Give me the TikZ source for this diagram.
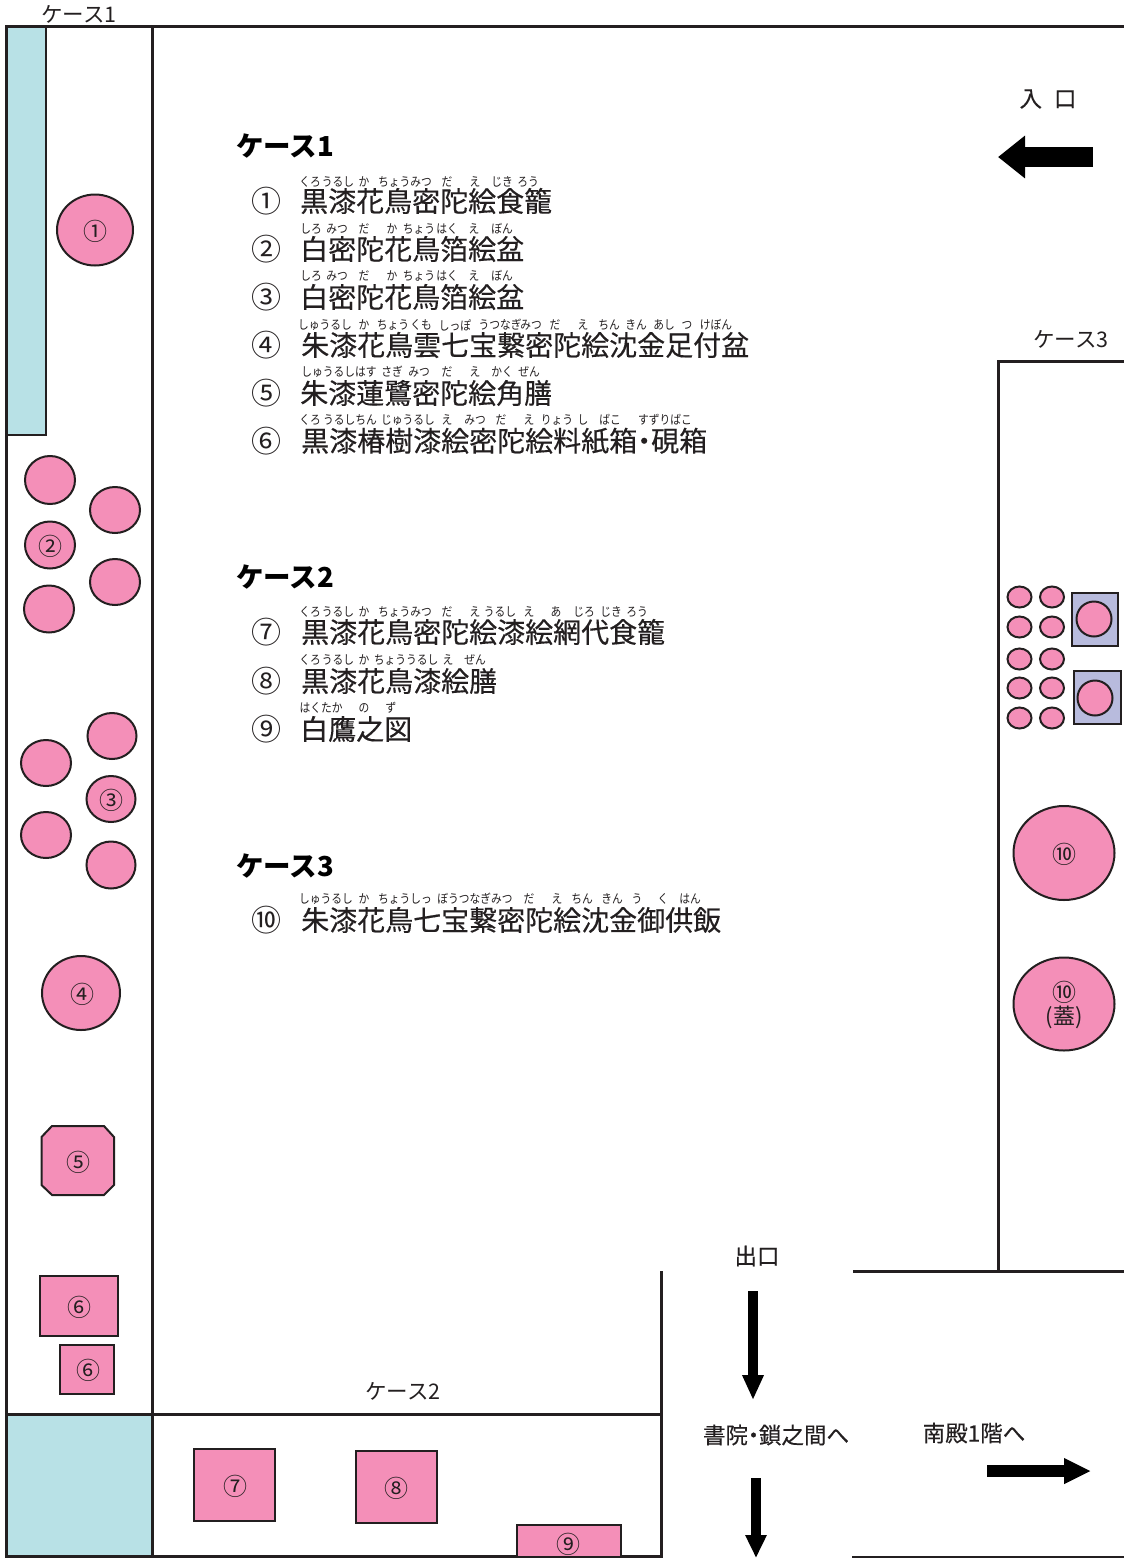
\documentclass[tikz,border=0pt]{standalone}
\usepackage{fontspec}
\setmainfont{Noto Sans CJK JP}
\newfontfamily\jpheavy{Noto Sans CJK JP}[FakeBold=0.35]
\usetikzlibrary{shapes.geometric,arrows.meta}
\definecolor{pinkfill}{HTML}{F48FB8}
\definecolor{cyanfill}{HTML}{B8E1E6}
\definecolor{lavfill}{HTML}{B8BBDD}
\definecolor{ink}{HTML}{231F20}
\newcommand\fs[1]{\fontsize{#1}{#1}\selectfont}
\newcount\rubyno
\newcommand\rb[3]{\global\advance\rubyno by 1 \node[rubytext] (ruby\the\rubyno) at (#1,#2+1) {\scalebox{.86}[1]{#3}};}
\tikzset{
 x=1pt,y=-1pt,
 wall/.style={draw=ink,line width=3pt,line cap=rect},
 rubytext/.style={inner sep=0pt,font=\fs{12.5},text=ink},
 maintext/.style={anchor=west,inner sep=0pt,font=\fs{28}\jpheavy,text=ink},
 listnum/.style={inner sep=0pt,font=\fs{30},text=ink},
 heading/.style={anchor=west,inner sep=0pt,font=\fs{27.5}\bfseries,text=black},
 tagtext/.style={inner sep=0pt,font=\fs{22.5}\jpheavy,text=ink},
 casetag/.style={inner sep=0pt,font=\fs{21.5},text=ink},
 objnum/.style={inner sep=0pt,font=\fs{24},text=ink},
 roundobj/.style={ellipse,draw=ink,line width=2pt,fill=pinkfill,inner sep=0pt},
 squareobj/.style={rectangle,draw=ink,line width=2pt,fill=pinkfill,inner sep=0pt},
 tray/.style={rectangle,draw=ink,line width=2pt,fill=lavfill,inner sep=0pt},
}
\begin{document}
\begin{tikzpicture}
\useasboundingbox (0,0) rectangle (1124,1558);
% floor plan
\fill[cyanfill] (7,27) rectangle (46,435);
\draw[ink,line width=2pt] (46,27) -- (46,435) -- (7,435);
\fill[cyanfill] (7,1415) rectangle (152,1556);
\draw[wall] (6,26) -- (1124,26);
\draw[wall] (6,26) -- (6,1556) -- (661,1556) -- (661,1272);
\draw[wall] (152.5,26) -- (152.5,1556);
\draw[wall] (6,1414) -- (661,1414);
\draw[wall] (1124,361) -- (998,361) -- (998,1271);
\draw[wall] (854,1271) -- (1124,1271);
\draw[ink,line width=1.5pt] (852,1557) -- (1124,1557);
% wall labels
\node[casetag] (lab1) at (79,14) {ケース1};
\node[casetag] (lab3) at (1071,339) {ケース3};
\node[casetag] (lab2) at (403,1391) {ケース2};
\node[tagtext] (enter) at (1048,99) {入\hspace{12pt}口};
\node[tagtext] (exit) at (757,1256) {出口};
\node[tagtext] (shoin) at (776,1435) {書院\makebox[11pt]{・}鎖之間へ};
\node[tagtext] (nanden) at (974,1433) {南殿1階へ};
% arrows
\coordinate (a1s) at (1093,157); \coordinate (a1e) at (998,157);
\coordinate (a2s) at (753,1291); \coordinate (a2e) at (753,1400);
\coordinate (a3s) at (756,1478); \coordinate (a3e) at (756,1558);
\coordinate (a4s) at (987,1471); \coordinate (a4e) at (1091,1471);
\draw[draw=black,line width=20pt,-{Triangle[length=27pt,width=41pt]}] (a1s) -- (a1e);
\draw[draw=black,line width=10pt,-{Triangle[length=25pt,width=20pt]}] (a2s) -- (a2e);
\draw[draw=black,line width=10pt,-{Triangle[length=23pt,width=20pt]}] (a3s) -- (a3e);
\draw[draw=black,line width=12pt,-{Triangle[length=27pt,width=24pt]}] (a4s) -- (a4e);
% case 1 objects
\node[roundobj,minimum width=76pt,minimum height=71pt,font=\fs{24}] (o1) at (95,230) {};
\node[objnum] (o1n) at (95,231) {①};
\node[roundobj,minimum width=50pt,minimum height=48pt] (c2a) at (50,480) {};
\node[roundobj,minimum width=50pt,minimum height=46pt] (c2b) at (115,510) {};
\node[roundobj,minimum width=50pt,minimum height=47pt] (o2) at (50,545) {};
\node[objnum] (o2n) at (50,546) {②};
\node[roundobj,minimum width=50pt,minimum height=46pt] (c2c) at (115,582) {};
\node[roundobj,minimum width=50pt,minimum height=47pt] (c2d) at (49,609) {};
\node[roundobj,minimum width=49pt,minimum height=46pt] (c3a) at (112,736) {};
\node[roundobj,minimum width=50pt,minimum height=46pt] (c3b) at (46,763) {};
\node[roundobj,minimum width=49pt,minimum height=46pt] (o3) at (111,799) {};
\node[objnum] (o3n) at (111,800) {③};
\node[roundobj,minimum width=50pt,minimum height=46pt] (c3c) at (46,835) {};
\node[roundobj,minimum width=49pt,minimum height=47pt] (c3d) at (111,865) {};
\node[roundobj,minimum width=78pt,minimum height=74pt] (o4) at (81,993) {};
\node[objnum] (o4n) at (82,994) {④};
\draw[draw=ink,line width=2pt,fill=pinkfill] (52,1126) -- (104,1126) -- (114,1137) -- (114,1185) -- (104,1195) -- (52,1195) -- (41.5,1185) -- (41.5,1137) -- cycle;
\node[objnum] (o5n) at (78,1162) {⑤};
\node[squareobj,minimum width=78pt,minimum height=60pt] (o6a) at (79,1306) {};
\node[objnum] (o6an) at (79,1307) {⑥};
\node[squareobj,minimum width=54pt,minimum height=49pt] (o6b) at (87,1369) {};
\node[objnum] (o6bn) at (88,1370) {⑥};
% case 2 objects
\node[squareobj,minimum width=81pt,minimum height=72pt] (o7) at (234,1485) {};
\node[objnum] (o7n) at (235,1486) {⑦};
\node[squareobj,minimum width=81pt,minimum height=72pt] (o8) at (396,1487) {};
\node[objnum] (o8n) at (396,1488) {⑧};
\node[squareobj,minimum width=104pt,minimum height=32pt] (o9) at (569,1541) {};
\node[objnum] (o9n) at (568,1544) {⑨};
% case 3 objects
\foreach \yy [count=\i] in {597,627,659,688,718}{
  \node[roundobj,minimum width=24pt,minimum height=21pt] (sa\i) at (1019.5,\yy) {};
  \node[roundobj,minimum width=24pt,minimum height=21pt] (sb\i) at (1052,\yy) {};
}
\node[tray,minimum width=46pt,minimum height=53pt] (t1) at (1095,619.5) {};
\node[roundobj,minimum width=35pt,minimum height=35pt] (tc1) at (1094,619) {};
\node[tray,minimum width=47pt,minimum height=53pt] (t2) at (1097,697) {};
\node[roundobj,minimum width=35pt,minimum height=35pt] (tc2) at (1095,698) {};
\node[roundobj,minimum width=101pt,minimum height=94pt] (o10) at (1064,853) {};
\node[objnum] (o10n0) at (1064,854) {⑩};
\node[roundobj,minimum width=101pt,minimum height=93pt] (o10b) at (1064,1004) {};
\node[objnum] (o10n) at (1064,992) {⑩};
\node[objnum,font=\fs{22}] (o10l) at (1064,1017) {(蓋)};
% headings
\node[heading] (h1) at (236,146) {ケース1};
\node[heading] (h2) at (236,577) {ケース2};
\node[heading] (h3) at (236,866) {ケース3};
% list numbers
\node[listnum] (n1) at (266,201) {①};
\node[listnum] (n2) at (266,249) {②};
\node[listnum] (n3) at (266,297) {③};
\node[listnum] (n4) at (266,345) {④};
\node[listnum] (n5) at (266,393) {⑤};
\node[listnum] (n6) at (266,441) {⑥};
\node[listnum] (n7) at (266,632) {⑦};
\node[listnum] (n8) at (266,681) {⑧};
\node[listnum] (n9) at (266,729) {⑨};
\node[listnum] (n10) at (266,920) {⑩};
% list texts
\node[maintext] (l1) at (300,201) {黒漆花鳥密陀絵食籠};
\node[maintext] (l2) at (300,249) {白密陀花鳥箔絵盆};
\node[maintext] (l3) at (300,297) {白密陀花鳥箔絵盆};
\node[maintext] (l4) at (301,345) {朱漆花鳥雲七宝繋密陀絵沈金足付盆};
\node[maintext] (l5) at (300,393) {朱漆蓮鷺密陀絵角膳};
\node[maintext] (l6) at (301,441) {黒漆椿樹漆絵密陀絵料紙箱\makebox[14pt]{・}硯箱};
\node[maintext] (l7) at (301,632) {黒漆花鳥密陀絵漆絵網代食籠};
\node[maintext] (l8) at (301,681) {黒漆花鳥漆絵膳};
\node[maintext] (l9) at (300,729) {白鷹之図};
\node[maintext] (l10) at (301,920) {朱漆花鳥七宝繋密陀絵沈金御供飯};
% ruby
\rb{310}{181}{くろ}\rb{338}{181}{うるし}\rb{364}{181}{か}\rb{405}{181}{ちょうみつ}\rb{447}{181}{だ}\rb{475}{181}{え}\rb{502}{181}{じき}\rb{528}{181}{ろう}
\rb{311}{228}{しろ}\rb{337}{228}{みつ}\rb{364}{228}{だ}\rb{392}{228}{か}\rb{419}{228}{ちょう}\rb{447}{228}{はく}\rb{474}{228}{え}\rb{502}{228}{ぼん}
\rb{311}{275}{しろ}\rb{337}{275}{みつ}\rb{364}{275}{だ}\rb{392}{275}{か}\rb{419}{275}{ちょう}\rb{447}{275}{はく}\rb{474}{275}{え}\rb{502}{275}{ぼん}
\rb{325}{324}{しゅうるし}\rb{364}{324}{か}\rb{393}{324}{ちょう}\rb{421}{324}{くも}\rb{455}{324}{しっぽ}\rb{500}{324}{うつなぎ}\rb{531}{324}{みつ}\rb{555}{324}{だ}\rb{583}{324}{え}\rb{609}{324}{ちん}\rb{636}{324}{きん}\rb{664}{324}{あし}\rb{687}{324}{つ}\rb{716}{324}{けぼん}
\rb{339}{371}{しゅうるしはす}\rb{392}{371}{さぎ}\rb{419}{371}{みつ}\rb{447}{371}{だ}\rb{475}{371}{え}\rb{502}{371}{かく}\rb{529}{371}{ぜん}
\rb{310}{419}{くろ}\rb{350}{419}{うるしちん}\rb{408}{419}{じゅうるし}\rb{447}{419}{え}\rb{475}{419}{みつ}\rb{501}{419}{だ}\rb{529}{419}{え}\rb{557}{419}{りょう}\rb{583}{419}{し}\rb{610}{419}{ばこ}\rb{665}{419}{すずりばこ}
\rb{310}{611}{くろ}\rb{338}{611}{うるし}\rb{364}{611}{か}\rb{405}{611}{ちょうみつ}\rb{447}{611}{だ}\rb{475}{611}{え}\rb{500}{611}{うるし}\rb{529}{611}{え}\rb{556}{611}{あ}\rb{584}{611}{じろ}\rb{611}{611}{じき}\rb{637}{611}{ろう}
\rb{310}{659}{くろ}\rb{338}{659}{うるし}\rb{364}{659}{か}\rb{406}{659}{ちょううるし}\rb{448}{659}{え}\rb{475}{659}{ぜん}
\rb{321}{707}{はくたか}\rb{364}{707}{の}\rb{391}{707}{ず}
\rb{326}{898}{しゅうるし}\rb{364}{898}{か}\rb{405}{898}{ちょうしっ}\rb{475}{898}{ぼうつなぎみつ}\rb{529}{898}{だ}\rb{557}{898}{え}\rb{582}{898}{ちん}\rb{612}{898}{きん}\rb{637}{898}{う}\rb{663}{898}{く}\rb{690}{898}{はん}
\end{tikzpicture}
\end{document}
